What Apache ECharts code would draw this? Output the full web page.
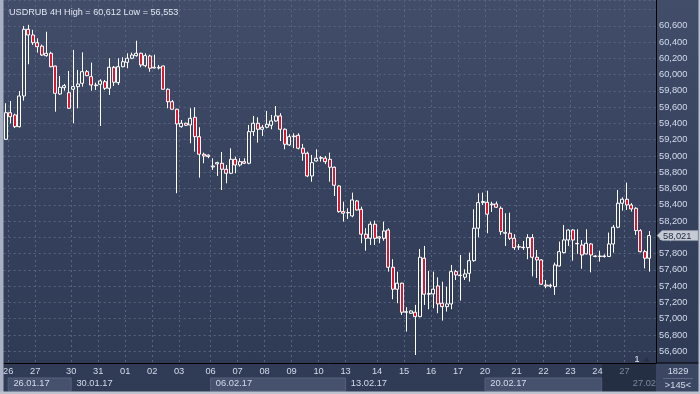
<!DOCTYPE html>
<html><head><meta charset="utf-8">
<script src="https://cdn.jsdelivr.net/npm/echarts@6/dist/echarts.min.js"></script>
<style>
html,body{margin:0;padding:0;}
#c{width:700px;height:394px;background:linear-gradient(to bottom,#414d69 0px,#37435e 180px,#2f3b55 363px,#303c56 363px,#303c56 394px);}
</style>
</head><body><div id="c"></div>
<script>
// ---- data (4H candles, USDRUB) ----
const opens = [59205,59532,59504,59360,59737,60557,60487,60392,60350,60233,
60262,60105,59762,59839,59778,59820,59852,59893,60036,59975,
59872,59881,59913,59832,60090,59901,60097,60151,60201,60233,
60262,60110,60229,60090,60081,60106,59820,59667,59574,59360,
59402,59381,59475,59237,59021,59010,58877,58902,58910,58836,
58787,58959,58889,58930,58910,59299,59402,59328,59353,59377,
59430,59492,59328,59136,59237,59254,59095,59033,58754,58938,
58980,58972,58959,58861,58631,58316,58300,58263,58447,58345,
58038,57988,58161,57990,57988,58090,57632,57362,57436,57079,
57067,57079,57025,57743,57300,57304,57402,57190,57148,57181,
57578,57535,57509,57558,57713,58112,58426,58431,58400,58410,
58357,58050,58050,57988,57885,57878,57873,57996,57755,57722,
57414,57400,57394,57648,57812,57967,58090,57920,57906,57796,
57918,57770,57770,57765,57765,57918,58124,58419,58468,58398,
58357,58082,57824,57743];
const closes = [59532,59483,59360,59737,60557,60487,60392,60343,60241,60262,
60097,59770,59844,59864,59586,59852,59885,60036,59987,59872,
59865,59922,59832,60090,59906,60097,60159,60201,60241,60262,
60118,60233,60078,60081,60090,59820,59667,59574,59393,59402,
59377,59463,59237,59021,59000,58992,58865,58918,58836,58787,
58959,58889,58930,58910,59299,59402,59328,59353,59390,59430,
59492,59328,59144,59237,59245,59095,59033,58754,58918,58972,
58972,58930,58861,58640,58316,58296,58305,58459,58336,58038,
57988,58161,57988,58005,58078,57632,57362,57436,57079,57085,
57095,57025,57755,57300,57310,57362,57181,57148,57181,57578,
57538,57530,57550,57713,58112,58426,58440,58284,58410,58370,
58070,58062,57988,57873,57880,57873,57996,57755,57722,57423,
57400,57410,57660,57824,57968,58090,57967,57925,57783,57927,
57783,57765,57765,57770,57918,58124,58419,58468,58398,58349,
58082,57824,57743,58021];
const lows = [59200,59400,59344,59350,59680,60127,60364,60270,60229,60220,
60090,59544,59750,59802,59581,59402,59586,59852,59980,59802,
59811,59369,59811,59750,59860,59872,60090,60078,60190,60220,
60090,60090,60036,60078,60065,59815,59586,59570,58542,59348,
59370,59156,59053,58733,58910,58972,58828,58754,58582,58664,
58780,58787,58869,58900,58898,59246,59164,59246,59340,59328,
59420,59184,59082,59123,59095,59080,58942,58740,58684,58930,
58930,58900,58684,58508,58303,58193,58226,58247,58330,57927,
57836,57906,57906,57927,57958,57578,57239,57190,57046,56841,
57060,56553,57018,57169,57116,57128,57067,56976,57087,57116,
57476,57222,57476,57455,57700,58000,58398,58050,58312,58360,
58030,57894,57967,57845,57845,57845,57731,57520,57500,57414,
57374,57380,57292,57640,57800,57894,57713,57796,57613,57790,
57569,57755,57701,57750,57760,57812,58112,58328,58336,58316,
58029,57815,57618,57578];
const highs = [59648,59676,59520,59799,60598,60612,60550,60446,60370,60527,
60282,60110,59983,59885,60045,60303,60057,60274,60057,60147,
59901,59943,59934,60201,60106,60201,60213,60262,60270,60417,
60270,60262,60245,60245,60118,60110,59830,59688,59580,59442,
59410,59586,59598,59353,59040,59020,58972,58930,59049,58889,
59094,58991,58972,58972,59381,59492,59475,59381,59553,59504,
59614,59525,59340,59267,59279,59280,59148,59053,59012,59082,
59000,59000,59041,58870,58640,58438,58357,58549,58459,58377,
58112,58193,58205,58016,58193,58112,57731,57578,57443,57141,
57105,57169,57857,57894,57587,57578,57509,57455,57394,57660,
57600,57783,57607,57812,58345,58542,58549,58573,58438,58440,
58380,58296,58303,58038,57918,57955,58038,58038,57845,57730,
57476,57430,57689,57947,58152,58100,58100,58100,57967,58100,
57930,57780,57836,57790,58058,58152,58582,58492,58672,58420,
58370,58100,57845,58078];
const dayLabels = ['26','27','30','31','01','02','03','06','07','08','09','10','13','14','15','16','17','20','21','22','23','24','27'];
const dayStart  = [1,7,15,21,27,33,39,46,52,58,64,70,76,83,89,95,101,107,114,120,126,132,138];
const weekLabels = ['26.01.17','30.01.17','06.02.17','13.02.17','20.02.17','27.02'];
const weekStart  = [1,15,46,76,107,138];
const titleText = 'USDRUB 4H High = 60,612 Low = 56,553';
const slots = 145;           // visible bar slots
const yMin = 56455, yMax = 60917, yStep = 200, yLabelMax = 60600;

// ---- build ----
const dayCats = new Array(slots).fill('');
dayStart.forEach((k,i)=>{ dayCats[k] = dayLabels[i]; });
const weekCats = new Array(slots).fill('');
weekStart.forEach((k,i)=>{ weekCats[k] = weekLabels[i]; });
const candles = opens.map((o,i)=>[o, closes[i], lows[i], highs[i]]);
const fmt = v => String(Math.round(v)).replace(/\B(?=(\d{3})+(?!\d))/g, ',');
const FONT = 'Liberation Sans, Arial, sans-serif';
const TXT = '#d3dbeb';
const DIM = '#7d879c';
const lastDay = dayStart[dayStart.length-1];
const lastWeek = weekStart[weekStart.length-1];

const chart = echarts.init(document.getElementById('c'), null, {renderer:'canvas'});
chart.setOption({
  animation:false,
  backgroundColor:'transparent',
  title:{text:titleText,left:4,top:3,textStyle:{color:'#e1e7f1',fontSize:9.1,fontWeight:'normal',fontFamily:FONT}},
  grid:{left:2,right:44,top:0,bottom:31,containLabel:false},
  xAxis:[{
    type:'category',data:dayCats,boundaryGap:true,position:'bottom',
    axisLine:{show:true,lineStyle:{color:'#000',width:1}},
    axisTick:{show:false},
    axisLabel:{interval:0,margin:4,color:TXT,fontSize:9.3,fontFamily:FONT,padding:[0,4.5,0,0],
      formatter:(v,i)=> i===lastDay ? '{d|'+v+'}' : v,
      rich:{d:{color:DIM,fontSize:9.3,fontFamily:FONT}}},
    splitLine:{show:true,interval:(i)=>dayStart.indexOf(i)>=0,lineStyle:{color:'#58647f',type:[2,3],width:1}}
  },{
    type:'category',data:weekCats,boundaryGap:true,position:'bottom',offset:0,
    axisLine:{show:false},axisTick:{show:false},splitLine:{show:false},
    axisLabel:{interval:0,margin:16,fontSize:9.3,fontFamily:FONT,align:'left',
      formatter:(v,i)=> i===lastWeek ? '{r|'+v+'}' : '{w|'+v+'}',
      rich:{w:{color:TXT,padding:[0,0,0,3],fontSize:9.3,fontFamily:FONT},
            r:{color:DIM,fontSize:9.3,fontFamily:FONT,padding:[0,0,0,6]}}}
  }],
  yAxis:{
    type:'value',position:'right',min:yMin,max:yMax,splitNumber:22,minInterval:yStep,maxInterval:yStep,
    axisLine:{show:true,lineStyle:{color:'#000'}},axisTick:{show:false},
    axisLabel:{margin:3,color:TXT,fontSize:9.3,fontFamily:FONT,showMinLabel:false,showMaxLabel:false,
      formatter:v=> (Math.round(v)%yStep===0 && v<=yLabelMax ? fmt(v) : '')},
    splitLine:{show:true,lineStyle:{color:'#58647f',type:[2,3],width:1}}
  },
  series:[{
    type:'candlestick',data:candles,xAxisIndex:0,yAxisIndex:0,barWidth:3.5,
    itemStyle:{color:'rgba(0,0,0,0)',color0:'#e3122e',borderColor:'#ffffff',borderColor0:'#ffffff',borderWidth:1},
    emphasis:{disabled:true}
  }]
});

// decorations computed from axis positions
const px = i => chart.convertToPixel({xAxisIndex:0}, i);
const slotW = (px(1)-px(0));
const bx = i => px(i) - slotW/2;
const plotR = 656, bandTop = 363;
const g = [];
// week boxes in the lower row (alternate weeks)
for (let w=0; w<weekStart.length-1; w+=2){
  const x0 = bx(weekStart[w]);
  const x1 = w+1<weekStart.length-1 ? bx(weekStart[w+1]) : bx(lastDay-5);
  g.push({type:'rect',z:-1,shape:{x:x0,y:378,width:x1-x0,height:13},style:{fill:'#46526d',stroke:'#56617c',lineWidth:1}});
}
// dark overlay at the right of the band
const ox = bx(lastDay-5);
g.push({type:'rect',z:-1,shape:{x:ox,y:bandTop+1,width:plotR-ox,height:28},style:{fill:'rgba(28,36,54,0.55)'}});
// bottom-right counter box
g.push({type:'rect',z:-1,shape:{x:plotR,y:bandTop,width:44,height:31},style:{fill:'#3b4762'}});
g.push({type:'line',shape:{x1:plotR,y1:bandTop,x2:700,y2:bandTop},style:{stroke:'#000',lineWidth:1}});
g.push({type:'line',shape:{x1:663,y1:378.5,x2:693,y2:378.5},style:{stroke:'#5c6884',lineWidth:1}});
g.push({type:'text',style:{text:'1829',x:678,y:371.5,align:'center',verticalAlign:'middle',fill:TXT,font:'9.3px '+FONT}});
g.push({type:'text',style:{text:'>'+slots+'<',x:678,y:385.5,align:'center',verticalAlign:'middle',fill:TXT,font:'9.3px '+FONT}});
// '1' marker
g.push({type:'text',style:{text:'1',x:637,y:359.5,align:'center',verticalAlign:'middle',fill:'#e6ebf3',font:'9px '+FONT}});
g.push({type:'polygon',shape:{points:[[643,362],[650,362],[646.5,357]]},style:{fill:'#2a3142'}});
// last price tag
const lastClose = closes[closes.length-1];
const py = chart.convertToPixel({yAxisIndex:0}, lastClose);
g.push({type:'polygon',z:10,shape:{points:[[657,py],[662,py-5],[698,py-5],[698,py+5],[662,py+5]]},style:{fill:'#c5cad3',stroke:'#9aa2b2',lineWidth:0.5}});
g.push({type:'text',z:11,style:{text:fmt(lastClose),x:663,y:py+0.5,verticalAlign:'middle',fill:'#1d2741',font:'9.3px '+FONT}});
// frame borders
g.push({type:'rect',z:20,shape:{x:0,y:0,width:3.5,height:394},style:{fill:'#a9b2c4'}});
g.push({type:'rect',z:20,shape:{x:0,y:391.5,width:700,height:2.5},style:{fill:'#bcc3cf'}});
g.push({type:'rect',z:20,shape:{x:698.5,y:0,width:1.5,height:394},style:{fill:'#bcc3cf'}});
chart.setOption({graphic:g});
</script>
</body></html>
